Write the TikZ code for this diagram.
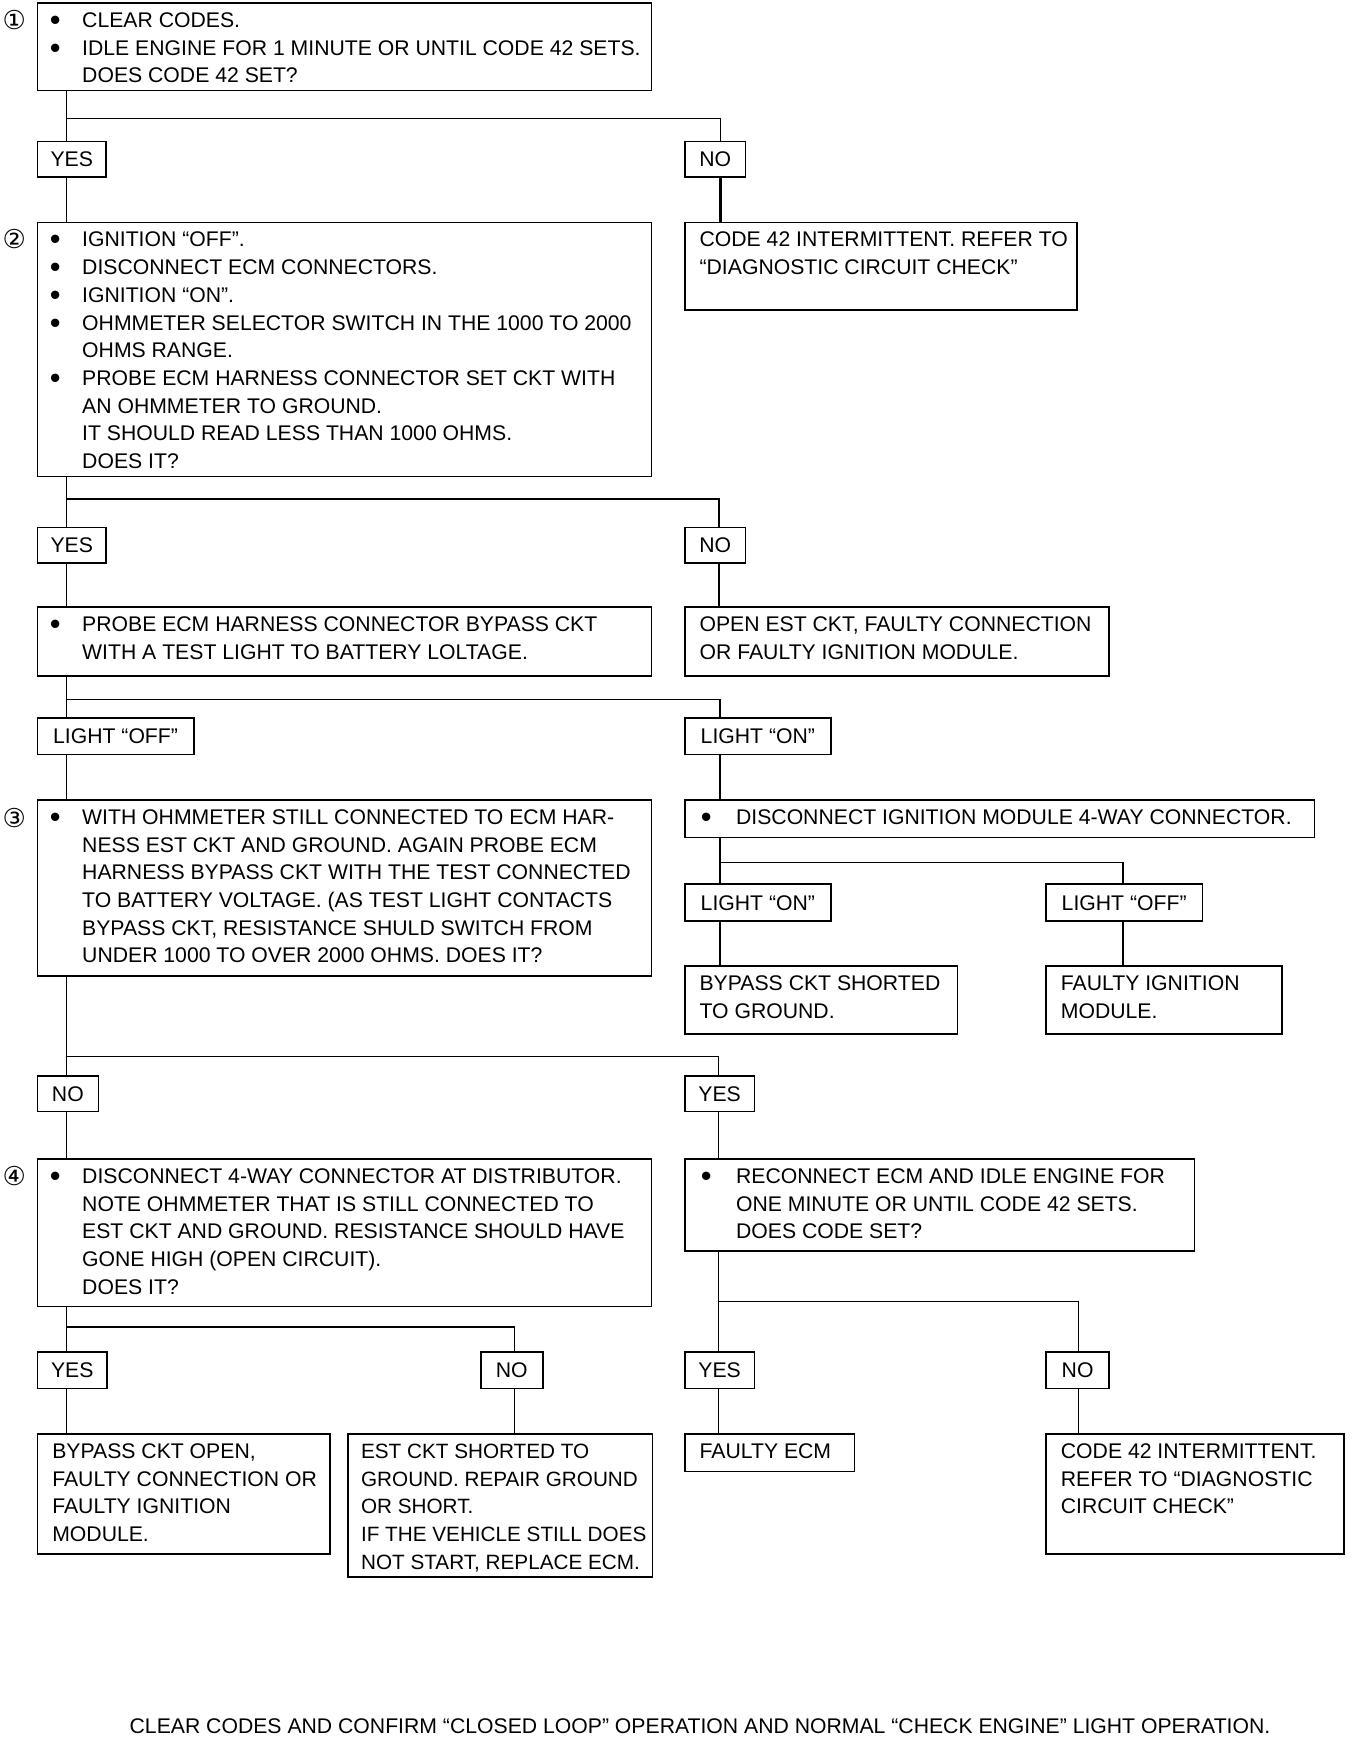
\documentclass[tikz,border=0pt]{standalone}
\usepackage{graphicx}
\usepackage{fontspec}
\setmainfont{Liberation Sans}
\newfontfamily\dejavu{DejaVu Sans}
\newcommand\fs{\fontsize{21.2}{27.7}\selectfont}
\newcommand\bul{\raisebox{-3pt}{\scalebox{1.45}{•}}}
\begin{document}
\begin{tikzpicture}[x=1pt,y=1pt,
  box/.style={draw, line width=1.6pt, rectangle, inner sep=0pt, anchor=north west},
  lbl/.style={draw, line width=1.6pt, rectangle, inner sep=0pt, anchor=north west, font=\fs, text height=15.2pt, text depth=0pt},
  txt/.style={inner sep=0pt, anchor=base west, font=\fs},
  num/.style={inner sep=0pt, font=\dejavu\fontsize{26}{26}\selectfont},
  conn/.style={line width=1.6pt},
  thick conn/.style={line width=2.6pt}]
\useasboundingbox (0,0) rectangle (1360,-1738);

% circled step numbers
\node[num] (n1) at (14.4,-20) {①};
\node[num] (n2) at (14.4,-239.4) {②};
\node[num] (n3) at (14.4,-818) {③};
\node[num] (n4) at (14.4,-1176) {④};

% ---------- step 1 ----------
\node[box, minimum width=614pt, minimum height=87.6pt] (b1) at (36.6,-2.2) {};
\node[txt, xshift=13pt, yshift=-25.2pt] (b1t) at (b1.north west)
 {\begin{tabular}[t]{@{}p{32.4pt}@{}l@{}}\bul&CLEAR CODES.\\ \bul&IDLE ENGINE FOR 1 MINUTE OR UNTIL CODE 42 SETS.\\ &DOES CODE 42 SET?\end{tabular}};

\node[lbl, minimum width=68.7pt, minimum height=35.4pt] (yes1) at (36.6,-140.8) {YES};
\node[lbl, minimum width=60.9pt, minimum height=35.4pt] (no1) at (683.9,-140.8) {NO};

% ---------- step 2 ----------
\node[box, minimum width=614pt, minimum height=253.8pt] (b2) at (36.6,-221.7) {};
\node[txt, xshift=13pt, yshift=-25.2pt] (b2t) at (b2.north west)
 {\begin{tabular}[t]{@{}p{32.4pt}@{}l@{}}\bul&IGNITION “OFF”.\\ \bul&DISCONNECT ECM CONNECTORS.\\ \bul&IGNITION “ON”.\\ \bul&OHMMETER SELECTOR SWITCH IN THE 1000 TO 2000\\ &OHMS RANGE.\\ \bul&PROBE ECM HARNESS CONNECTOR SET CKT WITH\\ &AN OHMMETER TO GROUND.\\ &IT SHOULD READ LESS THAN 1000 OHMS.\\ &DOES IT?\end{tabular}};

\node[box, minimum width=392.4pt, minimum height=87.5pt] (r2) at (683.9,-221.7) {};
\node[txt, xshift=15.5pt, yshift=-25.2pt] (r2t) at (r2.north west)
 {\begin{tabular}[t]{@{}l@{}}CODE 42 INTERMITTENT. REFER TO\\ “DIAGNOSTIC CIRCUIT CHECK”\end{tabular}};

\node[lbl, minimum width=68.7pt, minimum height=35.5pt] (yes2) at (36.6,-526.5) {YES};
\node[lbl, minimum width=60.9pt, minimum height=35.5pt] (no2) at (683.9,-526.5) {NO};

\node[box, minimum width=614pt, minimum height=68.7pt] (b3a) at (36.6,-606.3) {};
\node[txt, xshift=13pt, yshift=-25.2pt] (b3at) at (b3a.north west)
 {\begin{tabular}[t]{@{}p{32.4pt}@{}l@{}}\bul&PROBE ECM HARNESS CONNECTOR BYPASS CKT\\ &WITH A TEST LIGHT TO BATTERY LOLTAGE.\end{tabular}};

\node[box, minimum width=424.5pt, minimum height=68.7pt] (r3a) at (683.9,-606.3) {};
\node[txt, xshift=15.5pt, yshift=-25.2pt] (r3at) at (r3a.north west)
 {\begin{tabular}[t]{@{}l@{}}OPEN EST CKT, FAULTY CONNECTION\\ OR FAULTY IGNITION MODULE.\end{tabular}};

\node[lbl, minimum width=156.3pt, minimum height=36.6pt] (loff1) at (36.6,-717.1) {LIGHT “OFF”};
\node[lbl, minimum width=146.3pt, minimum height=36.6pt] (lon1) at (683.9,-717.1) {LIGHT “ON”};

% ---------- step 3 ----------
\node[box, minimum width=614pt, minimum height=176.2pt] (b3) at (36.6,-799.2) {};
\node[txt, xshift=13pt, yshift=-25.2pt] (b3t) at (b3.north west)
 {\begin{tabular}[t]{@{}p{32.4pt}@{}l@{}}\bul&WITH OHMMETER STILL CONNECTED TO ECM HAR-\\ &NESS EST CKT AND GROUND. AGAIN PROBE ECM\\ &HARNESS BYPASS CKT WITH THE TEST CONNECTED\\ &TO BATTERY VOLTAGE. (AS TEST LIGHT CONTACTS\\ &BYPASS CKT, RESISTANCE SHULD SWITCH FROM\\ &UNDER 1000 TO OVER 2000 OHMS. DOES IT?\end{tabular}};

\node[box, minimum width=629.6pt, minimum height=37.6pt] (r3) at (683.9,-799.2) {};
\node[txt, xshift=16.7pt, yshift=-25.2pt] (r3t) at (r3.north west)
 {\begin{tabular}[t]{@{}p{35.3pt}@{}l@{}}\bul&DISCONNECT IGNITION MODULE 4-WAY CONNECTOR.\end{tabular}};

\node[lbl, minimum width=146.3pt, minimum height=36.6pt] (lon2) at (683.9,-883.4) {LIGHT “ON”};
\node[lbl, minimum width=156.3pt, minimum height=36.6pt] (loff2) at (1045.2,-883.4) {LIGHT “OFF”};

\node[box, minimum width=272.6pt, minimum height=67.6pt] (bs) at (683.9,-965.4) {};
\node[txt, xshift=15.5pt, yshift=-25.2pt] (bst) at (bs.north west)
 {\begin{tabular}[t]{@{}l@{}}BYPASS CKT SHORTED\\ TO GROUND.\end{tabular}};

\node[box, minimum width=236.1pt, minimum height=67.6pt] (fi) at (1045.2,-965.4) {};
\node[txt, xshift=15.5pt, yshift=-25.2pt] (fit) at (fi.north west)
 {\begin{tabular}[t]{@{}l@{}}FAULTY IGNITION\\ MODULE.\end{tabular}};

\node[lbl, minimum width=60.9pt, minimum height=35.5pt] (no4) at (36.6,-1075.1) {NO};
\node[lbl, minimum width=69.8pt, minimum height=35.5pt] (yes4) at (683.9,-1075.1) {YES};

% ---------- step 4 ----------
\node[box, minimum width=614pt, minimum height=147.4pt] (b4) at (36.6,-1158.3) {};
\node[txt, xshift=13pt, yshift=-25.2pt] (b4t) at (b4.north west)
 {\begin{tabular}[t]{@{}p{32.4pt}@{}l@{}}\bul&DISCONNECT 4-WAY CONNECTOR AT DISTRIBUTOR.\\ &NOTE OHMMETER THAT IS STILL CONNECTED TO\\ &EST CKT AND GROUND. RESISTANCE SHOULD HAVE\\ &GONE HIGH (OPEN CIRCUIT).\\ &DOES IT?\end{tabular}};

\node[box, minimum width=509.9pt, minimum height=92pt] (r4) at (683.9,-1158.3) {};
\node[txt, xshift=16.7pt, yshift=-25.2pt] (r4t) at (r4.north west)
 {\begin{tabular}[t]{@{}p{35.3pt}@{}l@{}}\bul&RECONNECT ECM AND IDLE ENGINE FOR\\ &ONE MINUTE OR UNTIL CODE 42 SETS.\\ &DOES CODE SET?\end{tabular}};

\node[lbl, minimum width=69.8pt, minimum height=36.6pt] (yes5) at (36.6,-1351.1) {YES};
\node[lbl, minimum width=62.1pt, minimum height=36.6pt] (no5) at (479.9,-1351.1) {NO};
\node[lbl, minimum width=69.8pt, minimum height=36.6pt] (yes6) at (683.9,-1351.1) {YES};
\node[lbl, minimum width=63.2pt, minimum height=36.6pt] (no6) at (1045.2,-1351.1) {NO};

\node[box, minimum width=292.6pt, minimum height=119.7pt] (bo) at (36.6,-1433.2) {};
\node[txt, xshift=15.5pt, yshift=-25.2pt] (bot) at (bo.north west)
 {\begin{tabular}[t]{@{}l@{}}BYPASS CKT OPEN,\\ FAULTY CONNECTION OR\\ FAULTY IGNITION\\ MODULE.\end{tabular}};

\node[box, minimum width=304.8pt, minimum height=142.9pt] (es) at (346.9,-1433.2) {};
\node[txt, xshift=14pt, yshift=-25.2pt, font=\fontsize{20.7}{27.7}\selectfont] (est) at (es.north west)
 {\begin{tabular}[t]{@{}l@{}}EST CKT SHORTED TO\\ GROUND. REPAIR GROUND\\ OR SHORT.\\ IF THE VEHICLE STILL DOES\\ NOT START, REPLACE ECM.\end{tabular}};

\node[box, minimum width=169.6pt, minimum height=37.6pt] (fe) at (683.9,-1433.2) {};
\node[txt, xshift=15.5pt, yshift=-25.2pt] (fet) at (fe.north west) {FAULTY ECM};

\node[box, minimum width=298.2pt, minimum height=119.7pt] (c42) at (1045.2,-1433.2) {};
\node[txt, xshift=15.5pt, yshift=-25.2pt] (c42t) at (c42.north west)
 {\begin{tabular}[t]{@{}l@{}}CODE 42 INTERMITTENT.\\ REFER TO “DIAGNOSTIC\\ CIRCUIT CHECK”\end{tabular}};

\node[font=\fs, inner sep=0pt] (foot) at (700,-1725.8)
 {CLEAR CODES AND CONFIRM “CLOSED LOOP” OPERATION AND NORMAL “CHECK ENGINE” LIGHT OPERATION.};

% ---------- junction coordinates ----------
\coordinate (j1) at (66.5,-118.6);   \coordinate (j1r) at (720.5,-118.6);
\coordinate (j2) at (66.5,-498.8);   \coordinate (j2r) at (719,-498.8);
\coordinate (j3) at (66.5,-699.4);   \coordinate (j3r) at (720,-699.4);
\coordinate (k3) at (720,-862.3);    \coordinate (k3r) at (1122.8,-862.3);
\coordinate (j4) at (66.5,-1056.3);  \coordinate (j4r) at (718.5,-1056.3);
\coordinate (j5) at (66.5,-1326.8);  \coordinate (j5r) at (514.3,-1326.8);
\coordinate (j6) at (718.5,-1301.3); \coordinate (j6r) at (1078.5,-1301.3);

% ---------- connectors ----------
\draw[conn] (b1.south -| j1) -- (yes1.north -| j1);
\draw[conn] (j1) -- (j1r) -- (no1.north -| j1r);
\draw[conn] (yes1.south -| j1) -- (b2.north -| j1);
\draw[thick conn] (no1.south -| j1r) -- (r2.north -| j1r);

\draw[conn] (b2.south -| j2) -- (yes2.north -| j2);
\draw[conn] (j2) -- (j2r) -- (no2.north -| j2r);
\draw[conn] (yes2.south -| j2) -- (b3a.north -| j2);
\draw[conn] (no2.south -| j2r) -- (r3a.north -| j2r);

\draw[conn] (b3a.south -| j3) -- (loff1.north -| j3);
\draw[conn] (j3) -- (j3r) -- (lon1.north -| j3r);
\draw[conn] (loff1.south -| j3) -- (b3.north -| j3);
\draw[conn] (lon1.south -| j3r) -- (r3.north -| j3r);

\draw[conn] (r3.south -| k3) -- (lon2.north -| k3);
\draw[conn] (k3) -- (k3r) -- (loff2.north -| k3r);
\draw[conn] (lon2.south -| k3) -- (bs.north -| k3);
\draw[conn] (loff2.south -| k3r) -- (fi.north -| k3r);

\draw[conn] (b3.south -| j4) -- (no4.north -| j4);
\draw[conn] (j4) -- (j4r) -- (yes4.north -| j4r);
\draw[conn] (no4.south -| j4) -- (b4.north -| j4);
\draw[conn] (yes4.south -| j4r) -- (r4.north -| j4r);

\draw[conn] (b4.south -| j5) -- (yes5.north -| j5);
\draw[conn] (j5) -- (j5r) -- (no5.north -| j5r);
\draw[conn] (yes5.south -| j5) -- (bo.north -| j5);
\draw[conn] (no5.south -| j5r) -- (es.north -| j5r);

\draw[conn] (r4.south -| j6) -- (yes6.north -| j6);
\draw[conn] (j6) -- (j6r) -- (no6.north -| j6r);
\draw[conn] (yes6.south -| j6) -- (fe.north -| j6);
\draw[conn] (no6.south -| j6r) -- (c42.north -| j6r);
\end{tikzpicture}
\end{document}
